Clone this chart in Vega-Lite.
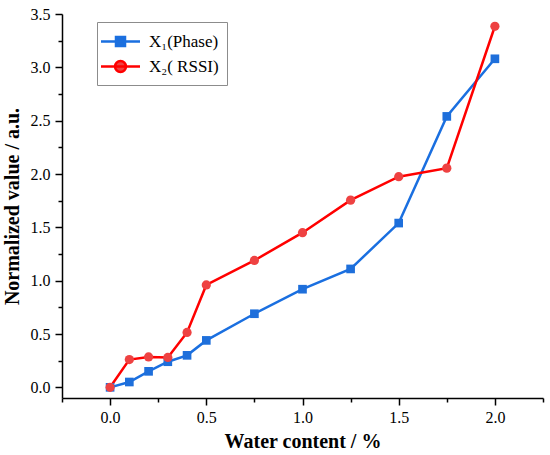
{
  "$schema": "https://vega.github.io/schema/vega-lite/v6.json",
  "width": 481,
  "height": 384,
  "autosize": {"type": "none"},
  "padding": {"left": 62, "top": 14, "right": 7, "bottom": 57},
  "background": "white",
  "data": {
    "values": [
      {"x": 0, "y": 0, "s": "X₁(Phase)"},
      {"x": 0.1, "y": 0.05, "s": "X₁(Phase)"},
      {"x": 0.2, "y": 0.15, "s": "X₁(Phase)"},
      {"x": 0.3, "y": 0.24, "s": "X₁(Phase)"},
      {"x": 0.4, "y": 0.3, "s": "X₁(Phase)"},
      {"x": 0.5, "y": 0.44, "s": "X₁(Phase)"},
      {"x": 0.75, "y": 0.69, "s": "X₁(Phase)"},
      {"x": 1.0, "y": 0.92, "s": "X₁(Phase)"},
      {"x": 1.25, "y": 1.11, "s": "X₁(Phase)"},
      {"x": 1.5, "y": 1.54, "s": "X₁(Phase)"},
      {"x": 1.75, "y": 2.54, "s": "X₁(Phase)"},
      {"x": 2.0, "y": 3.08, "s": "X₁(Phase)"},
      {"x": 0, "y": 0, "s": "X₂( RSSI)"},
      {"x": 0.1, "y": 0.26, "s": "X₂( RSSI)"},
      {"x": 0.2, "y": 0.285, "s": "X₂( RSSI)"},
      {"x": 0.3, "y": 0.28, "s": "X₂( RSSI)"},
      {"x": 0.4, "y": 0.515, "s": "X₂( RSSI)"},
      {"x": 0.5, "y": 0.96, "s": "X₂( RSSI)"},
      {"x": 0.75, "y": 1.19, "s": "X₂( RSSI)"},
      {"x": 1.0, "y": 1.45, "s": "X₂( RSSI)"},
      {"x": 1.25, "y": 1.755, "s": "X₂( RSSI)"},
      {"x": 1.5, "y": 1.975, "s": "X₂( RSSI)"},
      {"x": 1.75, "y": 2.055, "s": "X₂( RSSI)"},
      {"x": 2.0, "y": 3.385, "s": "X₂( RSSI)"}
    ]
  },
  "encoding": {
    "x": {
      "field": "x",
      "type": "quantitative",
      "scale": {"domain": [-0.25, 2.25], "nice": false, "zero": false},
      "axis": {
        "title": "Water content / %",
        "values": [-0.25, 0, 0.25, 0.5, 0.75, 1, 1.25, 1.5, 1.75, 2, 2.25],
        "labelExpr": "datum.value % 0.5 === 0 ? format(datum.value, '.1f') : ''",
        "tickSize": {"condition": {"test": "datum.value % 0.5 !== 0", "value": 4}, "value": 7},
        "labelPadding": 4,
        "titlePadding": 6
      }
    },
    "y": {
      "field": "y",
      "type": "quantitative",
      "scale": {"domain": [-0.1, 3.5], "nice": false, "zero": false},
      "axis": {
        "title": "Normalized value / a.u.",
        "values": [0, 0.25, 0.5, 0.75, 1, 1.25, 1.5, 1.75, 2, 2.25, 2.5, 2.75, 3, 3.25, 3.5],
        "labelExpr": "datum.value % 0.5 === 0 ? format(datum.value, '.1f') : ''",
        "tickSize": {"condition": {"test": "datum.value % 0.5 !== 0", "value": 4}, "value": 7},
        "labelPadding": 5,
        "titlePadding": 8
      }
    }
  },
  "layer": [
    {
      "mark": {"type": "line", "strokeWidth": 2.5},
      "encoding": {
        "color": {
          "field": "s",
          "type": "nominal",
          "scale": {"domain": ["X₁(Phase)", "X₂( RSSI)"], "range": ["#1a6fe0", "#ff0000"]},
          "legend": {
            "orient": "none",
            "legendX": 35,
            "legendY": 8,
            "title": null,
            "strokeColor": "#8c8c8c",
            "fillColor": "white",
            "padding": 8,
            "labelFont": "Liberation Serif",
            "labelFontSize": 17,
            "labelColor": "black",
            "labelOffset": 21,
            "symbolSize": 400,
            "symbolStrokeWidth": 2.5,
            "rowPadding": 4,
            "encode": {
              "symbols": {
                "update": {
                  "shape": {"signal": "datum.index === 0 ? 'M-1.55,0H2.35M-0.05,-0.45H0.85V0.45H-0.05Z' : 'M-1.55,0H2.35M0.95,0A0.55,0.55,0,1,1,-0.15,0A0.55,0.55,0,1,1,0.95,0Z'"},
                  "fill": {"signal": "datum.index === 0 ? '#1e6fdb' : '#ee4242'"},
                  "fillOpacity": {"value": 1}
                }
              }
            }
          }
        }
      }
    },
    {
      "transform": [{"filter": "datum.s === 'X₁(Phase)'"}],
      "mark": {"type": "point", "shape": "square", "filled": true, "opacity": 1, "size": 75, "color": "#1e6fdb"}
    },
    {
      "transform": [{"filter": "datum.s === 'X₂( RSSI)'"}],
      "mark": {"type": "point", "shape": "circle", "filled": true, "opacity": 1, "size": 85, "color": "#ee4242"}
    }
  ],
  "config": {
    "view": {"stroke": null},
    "font": "Liberation Serif",
    "axis": {
      "grid": false,
      "domainColor": "black",
      "domainWidth": 1.5,
      "tickColor": "black",
      "tickWidth": 1.5,
      "labelFont": "Liberation Serif",
      "labelFontSize": 16,
      "labelColor": "black",
      "labelOverlap": false,
      "labelFlush": false,
      "titleFont": "Liberation Serif",
      "titleFontSize": 20,
      "titleFontWeight": "bold",
      "titleColor": "black"
    }
  }
}
